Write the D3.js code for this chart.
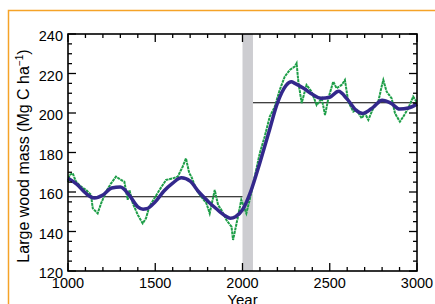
<!DOCTYPE html>
<html>
<head>
<meta charset="utf-8">
<script src="https://cdn.jsdelivr.net/npm/d3@7"></script>
<style>
  body { margin: 0; background: #fff; }
  svg { display: block; font-family: "Liberation Sans", Arial, sans-serif; }
</style>
</head>
<body>
<script>
// smoothed trend (blue)
const smoothYears = [1000,1050,1100,1150,1200,1250,1300,1350,1400,1430,1450,1500,1550,1600,1650,1700,1750,1800,1850,1900,1930,1960,2000,2050,2100,2150,2200,2250,2280,2300,2350,2400,2450,2500,2550,2600,2650,2690,2750,2800,2850,2900,2950,3000];
const smoothMass = [167,164,159.5,157,158.5,162,162.5,158.5,152.5,151.3,151.5,155,160.5,164.5,167.2,165.5,160,155.5,151.5,148,146.7,147.5,151,161,175,190,205,214,215.8,215,212.5,209.5,207.5,208,211,207,201.5,199.8,203,206.5,205,202,202.5,204.5];

// annual simulation (green)
const simYears = [1000,1008,1027,1046,1075,1104,1132,1142,1170,1190,1218,1247,1275,1304,1323,1342,1352,1371,1400,1428,1447,1466,1495,1524,1562,1600,1629,1657,1676,1695,1707,1736,1764,1793,1812,1841,1860,1879,1908,1937,1946,1974,1993,2022,2041,2070,2099,2127,2156,2185,2213,2242,2271,2299,2310,2320,2339,2367,2396,2425,2454,2473,2492,2520,2539,2568,2587,2606,2635,2654,2683,2702,2721,2749,2778,2797,2807,2826,2855,2874,2902,2921,2950,2978,2997];
const simMass = [165,168.6,169.5,165.2,162.7,161,158.5,151.7,149.2,154.3,160.2,164.4,167.8,166.1,165.2,156,161,154.3,148.4,144.1,146.7,152.6,156.8,161,166.1,166.9,167.8,172.8,177,169.5,167.8,161,157.6,154.3,149.2,161,153.4,150.9,145.8,142.4,135.7,147.5,156,149.2,156,167.8,179.6,188,198.1,203.2,211.6,218.4,221.8,223.5,225.2,215.9,205,214.2,210.8,204,207.4,199,207.4,215.9,212.5,214.2,216.7,205.7,200.7,201.6,197.3,199.8,196.5,202.4,205.7,213.3,216.7,210.8,207.4,199.8,195.6,198.1,202.4,208.3,205.7];

// period means (black) and transition band
const meanPeriods = [[1000, 2000, 157.6], [2060, 3000, 205.2]];
const transition = [2000, 2060];

const xTicks = [1000, 1500, 2000, 2500, 3000];
const yTicks = [120, 140, 160, 180, 200, 220, 240];

const W = 435, H = 304;
const margin = { top: 34, right: 18, bottom: 33, left: 68 };

const x = d3.scaleLinear().domain([1000, 3000]).range([margin.left, W - margin.right]);
const y = d3.scaleLinear().domain([120, 240]).range([H - margin.bottom, margin.top]);

const svg = d3.create("svg").attr("width", W).attr("height", H);

// orange frame
svg.append("path")
    .attr("d", `M8.5,${H} V10.5 H${W}`)
    .attr("fill", "none")
    .attr("stroke", "#f5a328")
    .attr("stroke-width", 1.5);

// transition band
svg.append("rect")
    .attr("x", x(transition[0]))
    .attr("width", x(transition[1]) - x(transition[0]))
    .attr("y", y(240))
    .attr("height", y(120) - y(240))
    .attr("fill", "#cdcdd1");

// mean lines
svg.selectAll(".mean")
    .data(meanPeriods)
    .join("line")
    .attr("x1", d => x(d[0]))
    .attr("x2", d => x(d[1]))
    .attr("y1", d => y(d[2]))
    .attr("y2", d => y(d[2]))
    .attr("stroke", "#000")
    .attr("stroke-width", 1.2);

// green simulation
const sim = simYears.map((t, i) => [t, simMass[i]]);
svg.append("path")
    .datum(sim)
    .attr("fill", "none")
    .attr("stroke", "#1e9e48")
    .attr("stroke-width", 2)
    .attr("stroke-dasharray", "3,0.7")
    .attr("d", d3.line().x(d => x(d[0])).y(d => y(d[1])));

// blue smooth
const smooth = smoothYears.map((t, i) => [t, smoothMass[i]]);
svg.append("path")
    .datum(smooth)
    .attr("fill", "none")
    .attr("stroke", "#33288c")
    .attr("stroke-width", 3.5)
    .attr("d", d3.line().curve(d3.curveMonotoneX).x(d => x(d[0])).y(d => y(d[1])));

// axes: ticks inward on all four sides
const x0 = x.range()[0], x1 = x.range()[1];
const y0 = y.range()[0], y1 = y.range()[1];
const ax = svg.append("g").attr("stroke", "#000").attr("stroke-width", 1.3);

const minorX = d3.range(1000, 3001, 100);
const minorY = d3.range(120, 241, 5);
minorX.forEach(v => {
    const len = v % 500 === 0 ? 8 : 4;
    ax.append("line").attr("x1", x(v)).attr("x2", x(v)).attr("y1", y0).attr("y2", y0 - len);
    ax.append("line").attr("x1", x(v)).attr("x2", x(v)).attr("y1", y1).attr("y2", y1 + len);
});
minorY.forEach(v => {
    const len = v % 20 === 0 ? 8 : 4;
    ax.append("line").attr("y1", y(v)).attr("y2", y(v)).attr("x1", x0).attr("x2", x0 + len);
    ax.append("line").attr("y1", y(v)).attr("y2", y(v)).attr("x1", x1).attr("x2", x1 - len);
});
ax.append("rect")
    .attr("x", x0).attr("y", y1)
    .attr("width", x1 - x0).attr("height", y0 - y1)
    .attr("fill", "none")
    .attr("stroke-width", 1.6);

// tick labels
svg.append("g")
    .selectAll("text")
    .data(xTicks)
    .join("text")
    .attr("x", d => x(d))
    .attr("y", y0 + 17)
    .attr("text-anchor", "middle")
    .attr("font-size", 14.5)
    .text(d => d);

svg.append("g")
    .selectAll("text")
    .data(yTicks)
    .join("text")
    .attr("x", x0 - 5)
    .attr("y", d => y(d) + 7)
    .attr("text-anchor", "end")
    .attr("font-size", 14.5)
    .text(d => d);

// axis titles
svg.append("text")
    .attr("x", (x0 + x1) / 2)
    .attr("y", 305)
    .attr("text-anchor", "middle")
    .attr("font-size", 15)
    .text("Year");

const yt = svg.append("text")
    .attr("transform", `translate(29,156) rotate(-90)`)
    .attr("text-anchor", "middle")
    .attr("font-size", 16);
yt.append("tspan").text("Large wood mass (Mg C ha");
yt.append("tspan").attr("font-size", 10).attr("dy", -6).text("−1");
yt.append("tspan").attr("dy", 6).text(")");

document.body.append(svg.node());
</script>
</body>
</html>
